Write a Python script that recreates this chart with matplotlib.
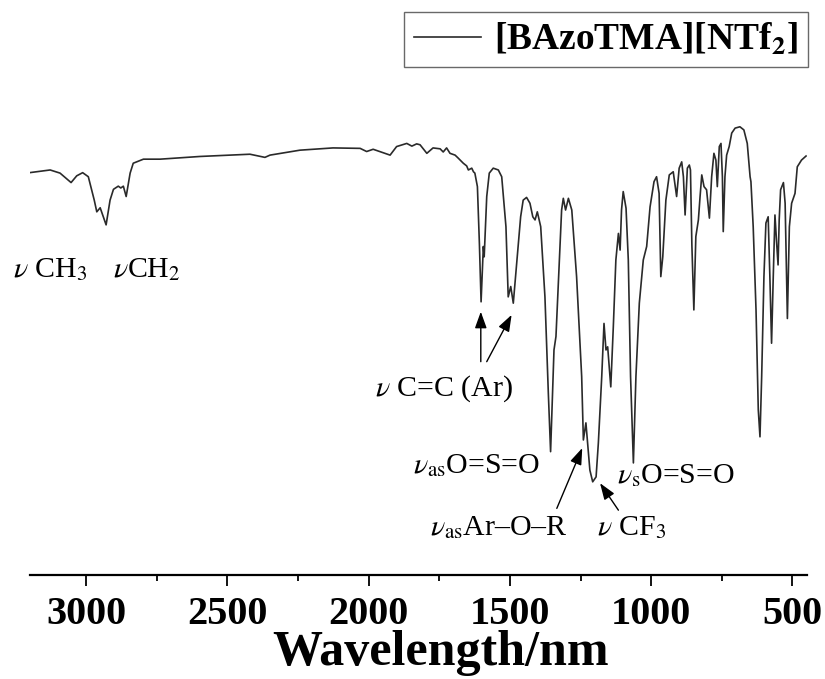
import matplotlib
matplotlib.use("Agg")
import matplotlib.pyplot as plt
from matplotlib.ticker import MultipleLocator

plt.rcParams["font.family"] = ["Liberation Serif", "DejaVu Serif"]
plt.rcParams["mathtext.fontset"] = "stix"

# FT-IR spectrum of [BAzoTMA][NTf2]: wavenumber and transmittance (arb. units)
wavenumber = [
    3200, 3127, 3092, 3053, 3033, 3012, 2992, 2971, 2962, 2950, 2929, 2915,
    2903, 2886, 2877, 2868, 2858, 2844, 2833, 2797, 2738, 2597, 2420, 2367,
    2349, 2243, 2126, 2030, 2007, 1984, 1924, 1901, 1865, 1847, 1830, 1818,
    1794, 1772, 1747, 1736, 1724, 1712, 1694, 1684, 1665, 1653, 1647, 1641,
    1635, 1629, 1624, 1615, 1608, 1602, 1594, 1591, 1582, 1573, 1559, 1541,
    1529, 1514, 1506, 1497, 1488, 1478, 1470, 1462, 1453, 1441, 1429, 1419,
    1411, 1403, 1391, 1376, 1364, 1356, 1344, 1337, 1329, 1317, 1311, 1303,
    1293, 1281, 1264, 1246, 1240, 1231, 1217, 1207, 1195, 1187, 1175, 1167,
    1160, 1154, 1143, 1134, 1125, 1116, 1110, 1105, 1099, 1089, 1081, 1073,
    1063, 1054, 1042, 1028, 1016, 1004, 990, 981, 972, 966, 959, 948,
    936, 922, 910, 901, 892, 886, 880, 872, 865, 861, 856, 849,
    842, 833, 827, 821, 813, 804, 794, 786, 778, 771, 766, 759,
    753, 748, 745, 739, 733, 724, 715, 703, 686, 672, 660, 650,
    647, 639, 629, 621, 615, 609, 601, 594, 586, 580, 574, 568,
    562, 556, 551, 547, 542, 532, 526, 518, 511, 503, 491, 483,
    468, 452,
]
transmittance = [
    89.4, 90.0, 89.3, 87.2, 88.7, 89.4, 88.5, 83.3, 80.7, 81.6, 77.8, 83.3,
    85.7, 86.4, 86.0, 86.4, 84.1, 89.3, 91.5, 92.4, 92.4, 93.0, 93.5, 92.8,
    93.3, 94.4, 94.9, 94.8, 94.1, 94.6, 93.3, 95.2, 95.9, 95.3, 95.8, 95.6,
    93.7, 94.9, 94.7, 94.0, 94.9, 93.7, 93.3, 92.7, 91.5, 90.9, 90.0, 90.2,
    90.4, 89.6, 89.3, 86.3, 73.7, 60.7, 73.0, 70.7, 84.1, 89.3, 90.4, 90.0,
    88.5, 77.4, 61.8, 64.1, 60.4, 67.8, 73.7, 79.6, 83.3, 83.9, 82.6, 79.6,
    78.9, 80.7, 77.4, 61.8, 40.4, 27.4, 50.0, 53.0, 64.1, 81.1, 83.7, 81.1,
    83.7, 81.1, 66.3, 44.1, 30.0, 33.8, 23.3, 20.7, 21.8, 29.3, 44.1, 55.9,
    50.0, 50.7, 41.8, 55.2, 70.0, 75.9, 72.2, 81.1, 85.2, 81.5, 70.0, 44.1,
    24.9, 44.1, 60.4, 70.0, 73.0, 81.8, 87.4, 88.5, 84.8, 66.3, 70.7, 83.3,
    88.9, 89.6, 84.1, 90.4, 91.8, 88.5, 80.0, 90.4, 91.1, 90.0, 73.3, 58.9,
    75.2, 78.9, 84.1, 88.9, 86.3, 85.6, 79.3, 88.5, 93.7, 92.2, 86.3, 95.2,
    95.9, 88.5, 76.3, 88.5, 93.3, 95.2, 98.2, 99.3, 99.6, 98.9, 95.9, 88.5,
    87.4, 77.4, 58.9, 36.7, 30.7, 44.1, 66.3, 78.2, 79.6, 66.3, 51.5, 66.3,
    80.0, 73.7, 68.9, 78.9, 85.6, 87.2, 82.6, 57.0, 77.4, 82.6, 84.8, 90.7,
    92.2, 93.1,
]
series_label = r"[BAzoTMA][NTf$_\mathbf{2}$]"

tick_values = [3000, 2500, 2000, 1500, 1000, 500]
tick_labels = ["3000", "2500", "2000", "1500", "1000", "500"]

# band assignments: (text, text anchor wavenumber, text anchor T)
band_labels = [
    (r"$\nu$ CH$_3$", 3258, 66.2),
    (r"$\nu$CH$_2$", 2904, 66.2),
    (r"$\nu$ C=C (Ar)", 1977, 39.8),
    (r"$\nu_{\rm as}$O=S=O", 1843, 22.7),
    (r"$\nu_{\rm as}$Ar–O–R", 1783, 8.9),
    (r"$\nu$ CF$_3$", 1193, 8.9),
    (r"$\nu_{\rm s}$O=S=O", 1122, 20.5),
]
# arrows: (tail wavenumber, tail T, head wavenumber, head T)
band_arrows = [
    (1603, 47.4, 1603, 58.5),
    (1582, 47.4, 1494, 57.8),
    (1334, 14.8, 1244, 28.2),
    (1116, 14.4, 1181, 20.4),
]

fig = plt.figure(figsize=(8.25, 6.79), dpi=100)
ax = fig.add_axes([0.0358, 0.1532, 0.9419, 0.6996])

ax.plot(wavenumber, transmittance, color="#2a2a2a", lw=1.2, label=series_label)

ax.set_xlim(3200, 450)
ax.set_ylim(0, 105.56)

for s in ("left", "right", "top"):
    ax.spines[s].set_visible(False)
ax.spines["bottom"].set_linewidth(1.6)
ax.set_yticks([])

ax.set_xticks(tick_values)
ax.set_xticklabels(tick_labels)
ax.xaxis.set_minor_locator(MultipleLocator(250))
ax.tick_params(axis="x", which="major", direction="out", length=8, width=1.3,
               pad=7, labelsize=29)
ax.tick_params(axis="x", which="minor", direction="out", length=4.5, width=1.3)
for lbl in ax.get_xticklabels():
    lbl.set_fontweight("bold")

ax.set_xlabel("Wavelength/nm", fontsize=36, fontweight="bold")
ax.xaxis.set_label_coords(0.5295, -0.1895)
ax.xaxis.label.set_va("baseline")

for text, wx, ty in band_labels:
    ax.text(wx, ty, text, fontsize=21.5, ha="left", va="baseline", color="black")

for w0, t0, w1, t1 in band_arrows:
    ax.annotate("", xy=(w1, t1), xytext=(w0, t0),
                arrowprops=dict(arrowstyle="-|>,head_length=0.5,head_width=0.18",
                                color="black", lw=1.0, shrinkA=0, shrinkB=0,
                                mutation_scale=20))

leg = ax.legend(loc="upper right", bbox_to_anchor=(0.979, 0.982),
                bbox_transform=fig.transFigure, frameon=True, fancybox=False,
                prop={"weight": "bold", "size": 27}, handlelength=1.8,
                handletextpad=0.35, borderpad=0.25, borderaxespad=0)
leg.get_frame().set_edgecolor("#444444")
leg.get_frame().set_linewidth(1.0)

fig.savefig("out.png", dpi=100)
